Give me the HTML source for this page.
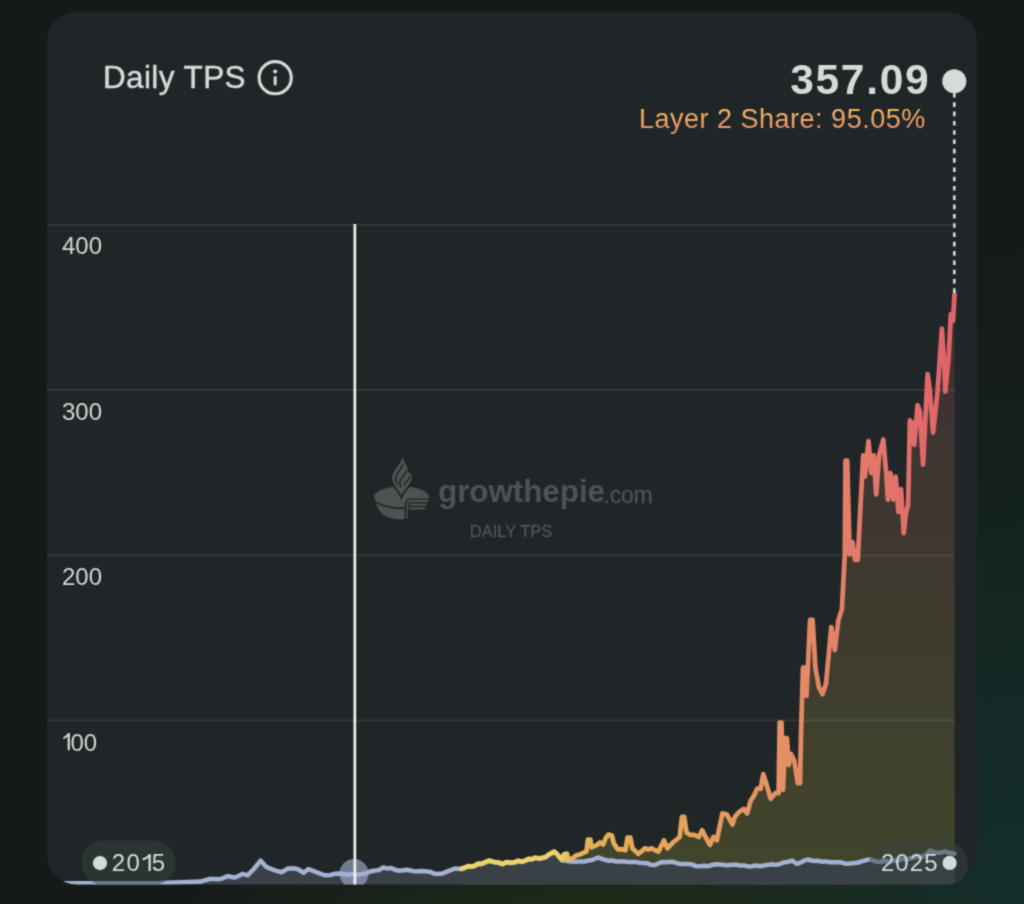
<!DOCTYPE html>
<html>
<head>
<meta charset="utf-8">
<title>Daily TPS</title>
<style>
  html, body { margin: 0; padding: 0; }
  body {
    width: 1024px; height: 904px; overflow: hidden; position: relative;
    background-color: #151a19;
    background-image:
      radial-gradient(ellipse 420px 60px at 600px 906px, rgba(34,44,22,0.8) 0%, rgba(30,40,24,0.5) 55%, rgba(21,26,25,0) 100%),
      radial-gradient(ellipse 860px 700px at 1030px 910px, rgba(20,46,43,1) 0%, rgba(20,43,39,1) 25%, rgba(20,36,32,0.85) 55%, rgba(21,30,27,0.4) 80%, rgba(21,26,25,0) 100%);
    font-family: "Liberation Sans", sans-serif;
  }
  svg { position: absolute; left: 0; top: 0; }
  text { font-family: "Liberation Sans", sans-serif; }
</style>
</head>
<body>
<svg width="1024" height="904" viewBox="0 0 1024 904">
  <defs>
    <filter id="soft" x="0" y="0" width="1024" height="904" filterUnits="userSpaceOnUse" color-interpolation-filters="sRGB"><feConvolveMatrix order="3" kernelMatrix="0.04 0.1 0.04 0.1 0.44 0.1 0.04 0.1 0.04" edgeMode="duplicate" preserveAlpha="false"/></filter>
    <clipPath id="cardclip"><rect x="47" y="11.5" width="930" height="873" rx="30" ry="30"/></clipPath>
    <linearGradient id="l2line" gradientUnits="userSpaceOnUse" x1="461" y1="0" x2="954" y2="0">
      <stop offset="0" stop-color="#ecd56a"/>
      <stop offset="0.2" stop-color="#ecd268"/>
      <stop offset="0.228" stop-color="#e7b357"/>
      <stop offset="0.45" stop-color="#e5a35b"/>
      <stop offset="0.65" stop-color="#e59064"/>
      <stop offset="0.80" stop-color="#e37c69"/>
      <stop offset="1" stop-color="#e1626b"/>
    </linearGradient>
    <linearGradient id="l2area" gradientUnits="userSpaceOnUse" x1="0" y1="294" x2="0" y2="886">
      <stop offset="0" stop-color="#3f2f32"/>
      <stop offset="0.3" stop-color="#3e3531"/>
      <stop offset="0.55" stop-color="#3e3b2e"/>
      <stop offset="1" stop-color="#41462b"/>
    </linearGradient>
    <linearGradient id="txtgrad" gradientUnits="userSpaceOnUse" x1="0" y1="106" x2="0" y2="130">
      <stop offset="0" stop-color="#f6bd62"/>
      <stop offset="1" stop-color="#e98e68"/>
    </linearGradient>
  </defs>
<g filter="url(#soft)">

  <!-- card -->
  <rect x="47" y="11.5" width="930" height="873" rx="30" ry="30" fill="#202627"/>

  <g clip-path="url(#cardclip)">
    <!-- L2 area -->
    <path fill="url(#l2area)" d="M461.5,868.8 L464.8,867.5 L468.0,866.2 L471.3,866.3 L474.5,865.9 L477.8,863.6 L481.0,863.9 L484.9,862.3 L488.8,860.6 L494.7,862.0 L498.6,862.6 L502.5,863.9 L506.4,862.1 L510.3,862.6 L514.2,862.3 L518.1,860.7 L522.0,861.6 L525.3,860.6 L528.5,858.8 L531.8,859.1 L535.1,857.7 L538.3,858.2 L541.6,858.1 L545.5,857.0 L549.4,854.2 L554.3,851.6 L557.2,854.2 L562.1,860.0 L564.0,854.2 L567.0,853.6 L567.9,860.0 L572.8,858.1 L576.7,855.2 L580.6,854.2 L586.5,851.3 L587.9,839.5 L590.4,839.5 L591.4,847.3 L596.3,845.4 L600.2,842.5 L603.1,844.4 L606.0,837.6 L608.4,834.6 L611.9,835.6 L613.8,843.4 L617.7,849.3 L621.6,849.1 L625.5,850.3 L627.5,837.6 L630.4,837.6 L632.4,848.3 L638.2,853.9 L641.5,851.4 L644.9,848.3 L648.3,849.5 L651.7,848.3 L655.0,850.2 L658.4,851.6 L664.0,840.4 L667.4,848.3 L670.8,844.6 L674.1,841.5 L679.7,837.0 L682.0,816.8 L684.2,816.8 L686.5,832.5 L690.4,834.9 L694.3,834.8 L698.8,837.0 L702.2,830.3 L705.6,837.0 L710.0,844.9 L713.4,837.0 L716.8,840.4 L722.4,813.4 L726.9,814.6 L732.5,824.7 L734.8,816.8 L739.3,811.7 L743.8,808.9 L747.1,813.4 L750.5,801.1 L753.9,795.8 L757.2,788.7 L760.6,788.7 L763.3,774.1 L766.2,783.1 L770.7,798.8 L775.2,793.2 L778.6,793.2 L779.7,722.5 L781.5,722.5 L783.0,789.8 L785.3,738.2 L786.9,738.2 L788.7,765.1 L790.9,753.9 L794.3,760.6 L797.7,783.1 L800.0,783.1 L801.0,733.7 L803.0,667.7 L805.5,667.7 L806.5,696.0 L810.1,619.9 L812.6,619.9 L815.4,667.7 L818.9,687.2 L822.5,694.2 L826.0,683.6 L831.3,627.0 L834.8,650.0 L838.4,619.9 L841.9,609.3 L844.8,554.5 L845.5,460.7 L847.2,460.7 L849.7,554.5 L852.5,542.1 L855.0,559.8 L857.8,559.8 L859.6,522.6 L863.2,455.4 L864.9,476.6 L868.5,441.2 L871.3,473.1 L873.8,455.4 L876.2,494.3 L879.1,455.4 L883.3,439.5 L886.2,473.1 L887.9,499.6 L890.4,473.1 L893.2,499.6 L895.7,476.6 L898.5,512.0 L901.0,489.0 L903.8,533.2 L905.6,515.5 L908.1,505.0 L909.9,420.4 L912.1,422.7 L914.3,444.8 L917.6,405.0 L919.8,411.6 L923.1,464.7 L927.6,374.0 L929.8,389.5 L933.1,432.6 L937.5,391.7 L941.9,328.6 L944.2,362.9 L945.3,391.7 L948.6,358.5 L950.8,314.2 L953.0,320.9 L954.5,294.3 L954.5,890 L461.5,890 Z"/>
    <!-- ETH area -->
    <path fill="#394146" d="M60.0,883.2 L160.0,883.1 L200.6,881.6 L205.3,880.2 L210.0,879.0 L214.2,878.9 L218.3,879.2 L222.5,878.4 L227.2,876.2 L231.1,876.8 L235.0,877.5 L238.9,875.7 L242.8,873.8 L247.5,875.3 L253.8,869.0 L260.6,860.6 L266.3,866.9 L271.0,868.9 L275.6,870.6 L281.9,872.2 L288.1,868.4 L292.8,868.3 L297.5,869.0 L303.8,872.8 L308.4,869.0 L312.4,870.6 L316.3,872.2 L321.0,873.9 L325.6,875.3 L330.3,875.0 L335.0,873.8 L339.2,873.5 L343.3,874.1 L347.5,874.7 L351.4,874.1 L355.3,874.7 L359.0,874.6 L362.6,873.9 L366.3,873.1 L371.0,871.2 L375.6,870.6 L379.5,869.7 L383.4,867.5 L387.4,868.5 L391.3,868.1 L397.5,870.6 L402.2,870.4 L406.9,869.7 L411.6,870.8 L416.3,871.6 L421.0,871.0 L425.6,871.3 L430.3,871.9 L435.0,873.8 L441.3,873.8 L447.5,871.3 L451.4,869.9 L455.3,868.4 L461.5,869.1 L464.8,867.8 L468.0,866.5 L471.3,866.6 L474.5,866.2 L477.8,863.9 L481.0,864.2 L484.9,862.6 L488.8,860.9 L494.7,862.3 L498.6,862.9 L502.5,864.2 L506.4,862.4 L510.3,862.9 L514.2,862.6 L518.1,861.0 L522.0,861.9 L525.3,860.9 L528.5,859.1 L531.8,859.4 L535.1,858.0 L538.3,858.5 L541.6,858.4 L545.5,857.3 L549.4,854.5 L554.3,851.9 L557.2,854.5 L562.1,860.3 L567.0,861.0 L571.0,861.6 L575.0,861.8 L580.0,861.6 L585.0,861.5 L588.5,860.4 L592.0,860.0 L598.0,857.5 L604.0,859.5 L608.0,860.7 L612.0,860.5 L616.3,861.5 L620.7,861.6 L625.0,861.5 L628.8,862.1 L632.5,861.9 L636.2,862.1 L640.0,862.8 L643.8,863.1 L647.5,863.3 L651.2,864.8 L655.0,865.0 L658.5,863.4 L662.0,862.0 L666.0,862.3 L670.0,861.7 L673.8,862.1 L677.5,863.5 L681.2,863.9 L685.0,864.0 L688.8,863.9 L692.5,864.7 L696.2,866.2 L700.0,866.2 L704.0,865.8 L708.0,866.2 L712.0,865.0 L716.0,864.2 L720.0,864.5 L724.0,864.9 L728.0,865.3 L732.0,864.8 L736.0,864.7 L740.0,865.5 L744.0,865.4 L748.0,866.4 L752.0,866.3 L756.0,865.5 L760.0,866.2 L764.0,865.4 L768.0,864.8 L772.0,864.3 L776.0,864.9 L780.0,864.0 L784.0,862.4 L788.0,861.8 L792.0,860.6 L797.0,864.0 L800.7,862.4 L804.3,860.6 L808.0,859.5 L811.5,860.6 L815.0,861.0 L818.8,860.8 L822.5,861.8 L826.2,861.4 L830.0,862.2 L834.0,862.3 L838.0,862.3 L842.0,862.6 L846.0,863.8 L850.0,863.4 L855.0,863.1 L860.0,862.0 L865.0,860.4 L870.0,859.4 L875.0,861.2 L880.0,862.0 L883.8,861.2 L887.5,861.1 L891.2,861.4 L895.0,860.5 L898.8,860.2 L902.5,858.9 L906.2,859.7 L910.0,858.5 L913.8,857.4 L917.5,856.8 L921.2,856.9 L925.0,855.8 L930.0,850.6 L935.0,852.5 L940.0,852.8 L945.0,851.4 L950.0,853.0 L954.5,853.6 L954.5,890 L60,890 Z"/>

    <!-- gridlines -->
    <g stroke="#ffffff" stroke-opacity="0.085" stroke-width="1.8">
      <line x1="47" y1="224.8" x2="954.5" y2="224.8"/>
      <line x1="47" y1="390" x2="954.5" y2="390"/>
      <line x1="47" y1="555.3" x2="954.5" y2="555.3"/>
      <line x1="47" y1="720.5" x2="954.5" y2="720.5"/>
    </g>

    <!-- watermark -->
    <g fill="#4c5353">
      <g id="logo">
        <!-- pie top (with slice cut away) -->
        <path d="M374.1 497 C374.1 491.2 386.4 486.5 401.5 486.5 C416.6 486.5 428.9 491.2 428.9 497 C428.9 497.6 428.8 498 428.6 498.4 L409.5 498.4 C406.8 498.6 405.6 500.6 405.2 503.4 L404.9 507.2 C403.8 507.3 402.6 507.3 401.5 507.3 C386.4 507.3 374.1 502.8 374.1 497 Z"/>
        <!-- bowl -->
        <path d="M375.6 502.6 C380.5 507 392 509.4 404.6 509.1 L404.4 519.2 C397 519.6 390 518.6 385.2 516 C380.2 512.8 377 508 375.6 502.6 Z"/>
        <!-- slice stripes -->
        <path d="M428.3 499.8 L410.2 499.8 C407.6 500 406.9 502.2 406.7 504.4 L405.9 518.6 L407.4 518.6 L408.4 505.4 C408.6 503.2 409.4 502.2 411 502.1 L428 502.1 Z"/>
        <path d="M427.2 503.6 L412 503.6 C410.4 503.7 409.9 504.6 409.8 505.8 L427 505.8 Z"/>
        <path d="M425.8 507.3 L409.7 507.3 L409.5 509.5 L424.6 509.5 Z"/>
        <!-- flame -->
        <path d="M392.6 481 C393.4 486 399.4 491.4 401.2 496.6 C403.6 491.4 409 487 411 482" fill="none" stroke="#202627" stroke-width="2.6"/>
        <path d="M402.9 456 C403.3 460.5 405.6 463.6 407 467 C407.9 469.3 408 471 407.8 472.8 C409 472.6 410.6 473.2 411.4 474.6 C412.6 477 411.8 480.2 410 483 C407.6 486.8 403.6 491 401.2 495.4 C399.6 491.6 395.6 487.4 393.6 483.4 C392 480.2 391.6 476.6 393 473.4 C395 468.8 401.6 463.4 402.9 456 Z"/>
      </g>
      <g fill="none" stroke="#202627" stroke-width="1.45" stroke-linecap="round">
        <path d="M402.6 464.5 C401.6 469.5 396.4 473.4 395.6 478 C395.2 480.6 396.4 482.6 397.6 484.4"/>
        <path d="M406.2 470.6 C405.4 475 400.6 478 399.8 481.6 C399.4 483.6 399.8 485.4 400.6 487.4"/>
        <path d="M410.2 476.4 C409.4 479.4 405.6 481.4 404.2 484.4"/>
      </g>
      <text x="438" y="501.5" font-size="31.5" font-weight="bold" letter-spacing="-0.1">growthepie</text>
      <text x="603.5" y="503.4" font-size="23" letter-spacing="-0.2" stroke="#4c5353" stroke-width="0.3">.com</text>
      <text x="511" y="537" font-size="16.5" text-anchor="middle" stroke="#4c5353" stroke-width="0.35">DAILY TPS</text>
    </g>

    <circle cx="354" cy="873.5" r="14.5" fill="#a6b2d0" fill-opacity="0.62"/>
    <!-- ETH line -->
    <polyline fill="none" stroke="#a3b1d3" stroke-width="4.5" stroke-linejoin="round" stroke-linecap="round" points="60.0,883.2 160.0,883.1 200.6,881.6 205.3,880.2 210.0,879.0 214.2,878.9 218.3,879.2 222.5,878.4 227.2,876.2 231.1,876.8 235.0,877.5 238.9,875.7 242.8,873.8 247.5,875.3 253.8,869.0 260.6,860.6 266.3,866.9 271.0,868.9 275.6,870.6 281.9,872.2 288.1,868.4 292.8,868.3 297.5,869.0 303.8,872.8 308.4,869.0 312.4,870.6 316.3,872.2 321.0,873.9 325.6,875.3 330.3,875.0 335.0,873.8 339.2,873.5 343.3,874.1 347.5,874.7 351.4,874.1 355.3,874.7 359.0,874.6 362.6,873.9 366.3,873.1 371.0,871.2 375.6,870.6 379.5,869.7 383.4,867.5 387.4,868.5 391.3,868.1 397.5,870.6 402.2,870.4 406.9,869.7 411.6,870.8 416.3,871.6 421.0,871.0 425.6,871.3 430.3,871.9 435.0,873.8 441.3,873.8 447.5,871.3 451.4,869.9 455.3,868.4 461.5,869.1 464.8,867.8 468.0,866.5 471.3,866.6 474.5,866.2 477.8,863.9 481.0,864.2 484.9,862.6 488.8,860.9 494.7,862.3 498.6,862.9 502.5,864.2 506.4,862.4 510.3,862.9 514.2,862.6 518.1,861.0 522.0,861.9 525.3,860.9 528.5,859.1 531.8,859.4 535.1,858.0 538.3,858.5 541.6,858.4 545.5,857.3 549.4,854.5 554.3,851.9 557.2,854.5 562.1,860.3 567.0,861.0 571.0,861.6 575.0,861.8 580.0,861.6 585.0,861.5 588.5,860.4 592.0,860.0 598.0,857.5 604.0,859.5 608.0,860.7 612.0,860.5 616.3,861.5 620.7,861.6 625.0,861.5 628.8,862.1 632.5,861.9 636.2,862.1 640.0,862.8 643.8,863.1 647.5,863.3 651.2,864.8 655.0,865.0 658.5,863.4 662.0,862.0 666.0,862.3 670.0,861.7 673.8,862.1 677.5,863.5 681.2,863.9 685.0,864.0 688.8,863.9 692.5,864.7 696.2,866.2 700.0,866.2 704.0,865.8 708.0,866.2 712.0,865.0 716.0,864.2 720.0,864.5 724.0,864.9 728.0,865.3 732.0,864.8 736.0,864.7 740.0,865.5 744.0,865.4 748.0,866.4 752.0,866.3 756.0,865.5 760.0,866.2 764.0,865.4 768.0,864.8 772.0,864.3 776.0,864.9 780.0,864.0 784.0,862.4 788.0,861.8 792.0,860.6 797.0,864.0 800.7,862.4 804.3,860.6 808.0,859.5 811.5,860.6 815.0,861.0 818.8,860.8 822.5,861.8 826.2,861.4 830.0,862.2 834.0,862.3 838.0,862.3 842.0,862.6 846.0,863.8 850.0,863.4 855.0,863.1 860.0,862.0 865.0,860.4 870.0,859.4 875.0,861.2 880.0,862.0 883.8,861.2 887.5,861.1 891.2,861.4 895.0,860.5 898.8,860.2 902.5,858.9 906.2,859.7 910.0,858.5 913.8,857.4 917.5,856.8 921.2,856.9 925.0,855.8 930.0,850.6 935.0,852.5 940.0,852.8 945.0,851.4 950.0,853.0 954.5,853.6"/>
    <!-- L2 line -->
    <polyline fill="none" stroke="url(#l2line)" stroke-width="4.7" stroke-linejoin="round" stroke-linecap="round" points="461.5,868.8 464.8,867.5 468.0,866.2 471.3,866.3 474.5,865.9 477.8,863.6 481.0,863.9 484.9,862.3 488.8,860.6 494.7,862.0 498.6,862.6 502.5,863.9 506.4,862.1 510.3,862.6 514.2,862.3 518.1,860.7 522.0,861.6 525.3,860.6 528.5,858.8 531.8,859.1 535.1,857.7 538.3,858.2 541.6,858.1 545.5,857.0 549.4,854.2 554.3,851.6 557.2,854.2 562.1,860.0 564.0,854.2 567.0,853.6 567.9,860.0 572.8,858.1 576.7,855.2 580.6,854.2 586.5,851.3 587.9,839.5 590.4,839.5 591.4,847.3 596.3,845.4 600.2,842.5 603.1,844.4 606.0,837.6 608.4,834.6 611.9,835.6 613.8,843.4 617.7,849.3 621.6,849.1 625.5,850.3 627.5,837.6 630.4,837.6 632.4,848.3 638.2,853.9 641.5,851.4 644.9,848.3 648.3,849.5 651.7,848.3 655.0,850.2 658.4,851.6 664.0,840.4 667.4,848.3 670.8,844.6 674.1,841.5 679.7,837.0 682.0,816.8 684.2,816.8 686.5,832.5 690.4,834.9 694.3,834.8 698.8,837.0 702.2,830.3 705.6,837.0 710.0,844.9 713.4,837.0 716.8,840.4 722.4,813.4 726.9,814.6 732.5,824.7 734.8,816.8 739.3,811.7 743.8,808.9 747.1,813.4 750.5,801.1 753.9,795.8 757.2,788.7 760.6,788.7 763.3,774.1 766.2,783.1 770.7,798.8 775.2,793.2 778.6,793.2 779.7,722.5 781.5,722.5 783.0,789.8 785.3,738.2 786.9,738.2 788.7,765.1 790.9,753.9 794.3,760.6 797.7,783.1 800.0,783.1 801.0,733.7 803.0,667.7 805.5,667.7 806.5,696.0 810.1,619.9 812.6,619.9 815.4,667.7 818.9,687.2 822.5,694.2 826.0,683.6 831.3,627.0 834.8,650.0 838.4,619.9 841.9,609.3 844.8,554.5 845.5,460.7 847.2,460.7 849.7,554.5 852.5,542.1 855.0,559.8 857.8,559.8 859.6,522.6 863.2,455.4 864.9,476.6 868.5,441.2 871.3,473.1 873.8,455.4 876.2,494.3 879.1,455.4 883.3,439.5 886.2,473.1 887.9,499.6 890.4,473.1 893.2,499.6 895.7,476.6 898.5,512.0 901.0,489.0 903.8,533.2 905.6,515.5 908.1,505.0 909.9,420.4 912.1,422.7 914.3,444.8 917.6,405.0 919.8,411.6 923.1,464.7 927.6,374.0 929.8,389.5 933.1,432.6 937.5,391.7 941.9,328.6 944.2,362.9 945.3,391.7 948.6,358.5 950.8,314.2 953.0,320.9 954.5,294.3"/>

    <!-- hover marker + line -->
    <rect x="353.5" y="224" width="2.7" height="662" fill="#eef2f1"/>

    <!-- year pills -->
    <rect x="81.5" y="840.5" width="94" height="44" rx="21" ry="21" fill="#344240" fill-opacity="0.5"/>
    <rect x="869" y="842.5" width="99" height="44" rx="21" ry="21" fill="#344240" fill-opacity="0.5"/>
    <circle cx="100" cy="863.1" r="7.1" fill="#d3dcd9"/>
    <circle cx="949.6" cy="862.9" r="7.1" fill="#d3dcd9"/>
    <text x="111.7" y="871" font-size="24" fill="#d3dcd9" letter-spacing="1.4">20</text><path fill="#d3dcd9" d="M150.8 854.2 L150.8 871 L148.5 871 L148.5 857.4 C146.9 858.7 145 859.7 142.6 860.3 L142.6 858.2 C145.4 857.4 147.4 856 148.8 854.2 Z"/><text x="151.8" y="871" font-size="24" fill="#d3dcd9">5</text>
    <text x="880.9" y="871" font-size="24" fill="#d3dcd9" letter-spacing="1.1">2025</text>
  </g>

  <!-- y labels -->
  <g fill="#cdd8d3" font-size="24">
    <text x="62" y="254.3">400</text>
    <text x="62" y="419.8">300</text>
    <text x="62" y="585.3">200</text>
    <path d="M69.9 733.1 L69.9 750.3 L67.6 750.3 L67.6 736.6 C66.4 737.7 65 738.6 63.4 739.2 L63.4 737 C65.4 736.1 67 734.8 68 733.1 Z"/><text x="70.4" y="750.6">00</text>
  </g>

  <!-- title -->
  <text x="102.9" y="88" font-size="31.5" fill="#d3dcd9" stroke="#d3dcd9" stroke-width="0.45" letter-spacing="0.4">Daily TPS</text>
  <g fill="none" stroke="#d3dcd9">
    <circle cx="275.2" cy="77.7" r="16.1" stroke-width="3.1"/>
  </g>
  <rect x="273.7" y="76" width="3" height="9.6" rx="1.5" fill="#d3dcd9"/>
  <circle cx="275.2" cy="71.6" r="2" fill="#d3dcd9"/>

  <!-- value -->
  <text x="790.2" y="94.2" font-size="42.5" font-weight="bold" fill="#d3dcd9" letter-spacing="1.7">357.09</text>
  <text x="639" y="127.8" font-size="27" fill="url(#txtgrad)" letter-spacing="0.5">Layer 2 Share: 95.05%</text>

  <!-- dashed connector -->
  <line x1="954.3" y1="93" x2="954.3" y2="293" stroke="#d3dcd9" stroke-width="2.6" stroke-dasharray="4.6 4.7"/>
  <circle cx="954.3" cy="81.2" r="12" fill="#d3dcd9"/>
</g>
</svg>
</body>
</html>
